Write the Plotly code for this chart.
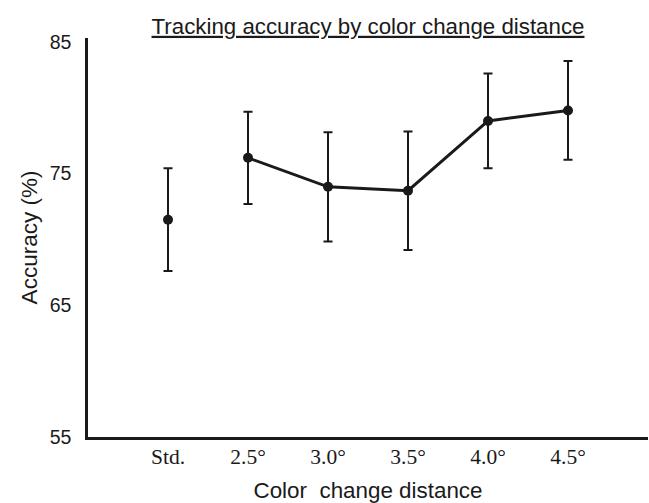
import plotly.graph_objects as go

categories = ["Std.", "2.5°", "3.0°", "3.5°", "4.0°", "4.5°"]
accuracy = [71.5, 76.2, 74.0, 73.7, 79.0, 79.8]
error = [3.9, 3.5, 4.15, 4.5, 3.6, 3.75]
y_ticks = [55, 65, 75, 85]

INK = "#1a1a1a"
xpos = list(range(len(categories)))

fig = go.Figure()
# Standard condition: point only
fig.add_trace(go.Scatter(
    x=xpos[:1], y=accuracy[:1], mode="markers",
    marker=dict(color=INK, size=10),
    error_y=dict(type="data", array=error[:1], color=INK, thickness=2, width=4.5),
    showlegend=False,
))
# Color change distances: connected line
fig.add_trace(go.Scatter(
    x=xpos[1:], y=accuracy[1:], mode="lines+markers",
    line=dict(color=INK, width=3),
    marker=dict(color=INK, size=10),
    error_y=dict(type="data", array=error[1:], color=INK, thickness=2, width=4.5),
    showlegend=False,
))

fig.update_layout(
    width=649, height=503,
    margin=dict(l=88, r=1, t=38, b=66),
    plot_bgcolor="white", paper_bgcolor="white",
    title=dict(
        text="<u>Tracking accuracy by color change distance</u>",
        x=0.5, xref="paper", xanchor="center",
        y=1 - 26 / 503, yref="container", yanchor="middle",
        font=dict(family="Liberation Sans, Arial", size=22.3, color=INK),
    ),
    xaxis=dict(
        range=[-1, 6], tickvals=xpos, ticktext=categories,
        showline=True, linecolor=INK, linewidth=2.5,
        showgrid=False, zeroline=False, ticks="",
        tickfont=dict(family="Liberation Serif, Times New Roman", size=21.5, color=INK),
        ticklabelstandoff=-2,
        title=dict(text="Color  change distance",
                   font=dict(family="Liberation Sans, Arial", size=22.4, color=INK),
                   standoff=16),
    ),
    yaxis=dict(
        range=[55, 85.3], tickvals=y_ticks,
        showline=True, linecolor=INK, linewidth=2.5,
        showgrid=False, zeroline=False, ticks="",
        tickfont=dict(family="Liberation Sans, Arial", size=19.5, color=INK),
        ticklabelstandoff=10,
        title=dict(text="Accuracy (%)",
                   font=dict(family="Liberation Sans, Arial", size=22.5, color=INK),
                   standoff=6),
    ),
)

fig.write_html("out.html")
